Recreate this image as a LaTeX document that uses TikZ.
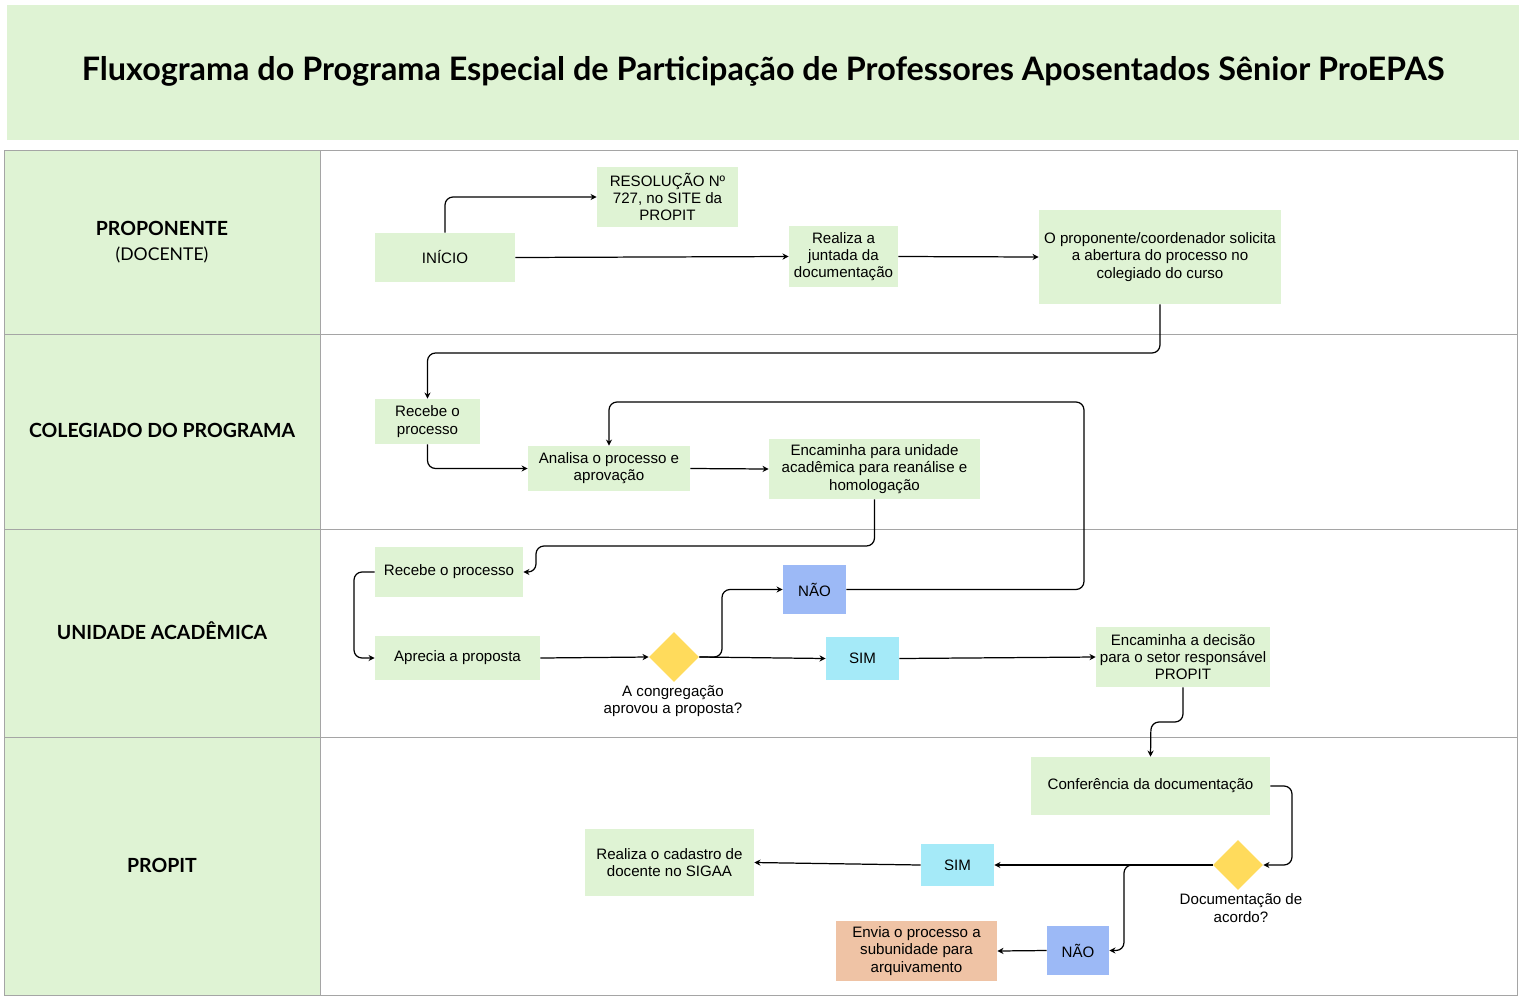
\documentclass[tikz,border=0pt]{standalone}
\usepackage{fontspec}
\setmainfont{Liberation Sans}
\newfontfamily\headfont{Lato}
\usetikzlibrary{arrows.meta}
\usetikzlibrary{shapes.geometric}
\definecolor{lanegreen}{RGB}{223,243,212}
\definecolor{naoblue}{RGB}{156,185,246}
\definecolor{simcyan}{RGB}{165,234,248}
\definecolor{decyellow}{RGB}{255,219,92}
\definecolor{envorange}{RGB}{239,195,165}
\definecolor{laneline}{RGB}{165,165,165}

\begin{document}
\begin{tikzpicture}[x=0.02cm,y=-0.02cm,
		box/.style={fill=lanegreen,align=center,inner sep=1pt,font=\fontsize{8.6}{9.8}\selectfont},
		naobox/.style={box,fill=naoblue},
		simbox/.style={box,fill=simcyan},
		decision/.style={diamond,fill=decyellow,minimum width=1cm,minimum height=1cm,inner sep=0pt},
		lanetitle/.style={align=center,font=\headfont\fontsize{11.1}{14}\selectfont\bfseries},
		flow/.style={-{Stealth[length=3.5pt,width=3.5pt]},line width=0.7pt,rounded corners=0.16cm}]
			\useasboundingbox (0,0) rectangle (1522,1002);
			% title
			\fill[lanegreen] (7,5) rectangle (1519,140);
			\node[font=\headfont\fontsize{18.4}{22}\selectfont\bfseries] (title) at (763,71) {Fluxograma do Programa Especial de Participação de Professores Aposentados Sênior ProEPAS};
			% lanes
			\fill[lanegreen] (4,150) rectangle (320,995);
			\draw[laneline,line width=0.45pt] (4,150) rectangle (1517,995);
			\draw[laneline,line width=0.45pt] (320,150) -- (320,995);
			\draw[laneline,line width=0.45pt] (4,334) -- (1517,334);
			\draw[laneline,line width=0.45pt] (4,529) -- (1517,529);
			\draw[laneline,line width=0.45pt] (4,737) -- (1517,737);
			\node[lanetitle] (proponente) at (162,228) {PROPONENTE};
			\node[font=\headfont\fontsize{10}{12}\selectfont] (docente) at (162,255) {(DOCENTE)};
			\node[lanetitle] (colegiado) at (162,430) {COLEGIADO DO PROGRAMA};
			\node[lanetitle] (unidade) at (162,631) {UNIDADE ACADÊMICA};
			\node[lanetitle] (propit) at (162,865) {PROPIT};
			% proponente
			\node[box,minimum width=2.8cm,minimum height=0.98cm] (inicio) at (445,257.5) {INÍCIO};
			\node[box,minimum width=2.82cm,minimum height=1.2cm] (resolucao) at (667.5,197) {RESOLUÇÃO Nº\\727, no SITE da\\PROPIT};
			\node[box,minimum width=2.18cm,minimum height=1.22cm] (juntada) at (843.5,256.5) {Realiza a\\juntada da\\documentação};
			\node[box,minimum width=4.84cm,minimum height=1.88cm] (solicita) at (1160,257) {O proponente/coordenador solicita\\a abertura do processo no\\colegiado do curso};
			% colegiado
			\node[box,minimum width=2.1cm,minimum height=0.9cm] (recebeA) at (427.5,421.5) {Recebe o\\processo};
			\node[box,minimum width=3.24cm,minimum height=0.9cm] (analisa) at (609,468.5) {Analisa o processo e\\aprovação};
			\node[box,minimum width=4.22cm,minimum height=1.2cm] (encaminhaA) at (874.5,469) {Encaminha para unidade\\acadêmica para reanálise e\\homologação};
			% unidade academica
			\node[box,minimum width=2.96cm,minimum height=1cm] (recebeB) at (449,572) {Recebe o processo};
			\node[box,minimum width=3.3cm,minimum height=0.88cm] (aprecia) at (457.5,658) {Aprecia a proposta};
			\node[decision] (congregacao) at (674,657) {};
			\node[align=center,font=\fontsize{8.6}{9.8}\selectfont] (congregacaotxt) at (673,701) {A congregação\\aprovou a proposta?};
			\node[naobox,minimum width=1.26cm,minimum height=0.98cm] (naoA) at (814.5,589.5) {NÃO};
			\node[simbox,minimum width=1.46cm,minimum height=0.86cm] (simA) at (862.5,658.5) {SIM};
			\node[box,minimum width=3.48cm,minimum height=1.2cm] (encaminhaB) at (1183,657) {Encaminha a decisão\\para o setor responsável\\PROPIT};
			% propit
			\node[box,minimum width=4.78cm,minimum height=1.16cm] (conferencia) at (1150.5,786) {Conferência da documentação};
			\node[decision] (documentacao) at (1238,865) {};
			\node[align=center,font=\fontsize{8.6}{9.8}\selectfont] (documentacaotxt) at (1241,908) {Documentação de\\acordo?};
			\node[simbox,minimum width=1.46cm,minimum height=0.84cm] (simB) at (957.5,865) {SIM};
			\node[box,minimum width=3.38cm,minimum height=1.34cm] (cadastro) at (669.5,862.5) {Realiza o cadastro de\\docente no SIGAA};
			\node[naobox,minimum width=1.24cm,minimum height=0.98cm] (naoB) at (1078,950.5) {NÃO};
			\node[box,fill=envorange,minimum width=3.22cm,minimum height=1.2cm] (envia) at (916.5,951) {Envia o processo a\\subunidade para\\arquivamento};
			% connectors
			\draw[flow] (inicio.north) |- (resolucao.west);
			\draw[flow] (inicio.east) -- (juntada.west);
			\draw[flow] (juntada.east) -- (solicita.west);
			\draw[flow] (solicita.south) -- (1160,353) -- (427.5,353) -- (recebeA.north);
			\draw[flow] (recebeA.south) |- (analisa.west);
			\draw[flow] (analisa.east) -- (encaminhaA.west);
			\draw[flow] (encaminhaA.south) -- (874.5,546) -- (536,546) -- (536,572) -- (recebeB.east);
			\draw[flow] (recebeB.west) -- (354,572) -- (354,658) -- (aprecia.west);
			\draw[flow] (aprecia.east) -- (congregacao.west);
			\draw[flow] (congregacao.east) -- (722,657) -- (722,589.5) -- (naoA.west);
			\draw[flow] (congregacao.east) -- (simA.west);
			\draw[flow] (naoA.east) -- (1084,589.5) -- (1084,402) -- (609,402) -- (analisa.north);
			\draw[flow] (simA.east) -- (encaminhaB.west);
			\draw[flow] (encaminhaB.south) -- (1183,722) -- (1151,722) -- (conferencia.north);
			\draw[flow] (conferencia.east) -- (1292,786) -- (1292,865) -- (documentacao.east);
			\draw[flow] (documentacao.west) -- (simB.east);
			\draw[flow] (documentacao.west) -- (1124,865) -- (1124,950.5) -- (naoB.east);
			\draw[flow] (simB.west) -- (cadastro.east);
			\draw[flow] (naoB.west) -- (envia.east);
		\end{tikzpicture}
\end{document}
